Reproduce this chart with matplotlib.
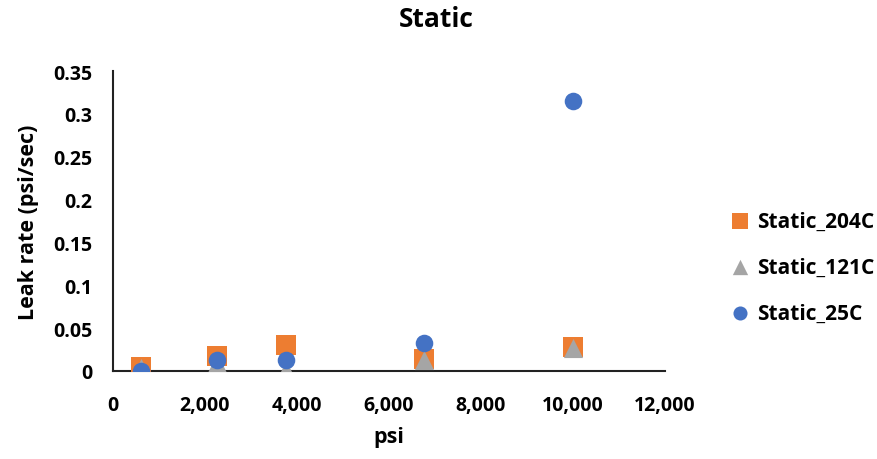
import matplotlib.pyplot as plt
from matplotlib.ticker import FuncFormatter

plt.rcParams["font.family"] = ["Open Sans", "DejaVu Sans"]
plt.rcParams["font.weight"] = "bold"

# Data
psi_204 = [600, 2250, 3750, 6750, 10000]
rate_204 = [0.005, 0.018, 0.030, 0.0145, 0.028]

psi_121 = [600, 2250, 3750, 6750, 10000]
rate_121 = [0.004, 0.009, 0.001, 0.013, 0.027]

psi_25 = [600, 2250, 3750, 6750, 10000]
rate_25 = [0.0, 0.0125, 0.013, 0.033, 0.315]

fig = plt.figure(figsize=(8.77, 4.6), dpi=100)
ax = fig.add_axes([113 / 877, 88 / 460, 552 / 877, 300 / 460])

ax.scatter(psi_204, rate_204, marker="s", s=200, color="#ED7D31",
           label="Static_204C", zorder=3, linewidths=0)
ax.scatter(psi_121, rate_121, marker="^", s=190, color="#A5A5A5",
           label="Static_121C", zorder=4, linewidths=0)
ax.scatter(psi_25, rate_25, marker="o", s=160, color="#4472C4",
           label="Static_25C", zorder=5, linewidths=0)

ax.set_xlim(0, 12000)
ax.set_ylim(0, 0.35)
ax.set_xticks(range(0, 12001, 2000))
ax.set_yticks([0, 0.05, 0.1, 0.15, 0.2, 0.25, 0.3, 0.35])
ax.xaxis.set_major_formatter(FuncFormatter(lambda v, p: f"{int(v):,}"))
ax.yaxis.set_major_formatter(FuncFormatter(lambda v, p: f"{v:g}"))
ax.tick_params(length=0, labelsize=14)
ax.tick_params(axis="x", pad=17)
ax.tick_params(axis="y", pad=15)
for lab in ax.get_xticklabels() + ax.get_yticklabels():
    lab.set_fontweight("bold")

for side in ["top", "right"]:
    ax.spines[side].set_visible(False)
for side in ["left", "bottom"]:
    ax.spines[side].set_linewidth(1.5)
    ax.spines[side].set_color("#222222")

ax.set_xlabel("psi", fontsize=15.5, fontweight="bold", labelpad=8)
ax.set_ylabel("Leak rate (psi/sec)", fontsize=15.5, fontweight="bold", labelpad=10)
fig.text(0.498, 0.957, "Static", ha="center", va="center", fontsize=19, fontweight="bold")

# Legend off to the right, like the Excel original
leg = fig.legend(loc="center left", bbox_to_anchor=(0.822, 0.417), frameon=False,
                 fontsize=15, labelspacing=1.2, handletextpad=0.35,
                 markerscale=0.8, handlelength=1.0, borderaxespad=0)
for t in leg.get_texts():
    t.set_fontweight("bold")

fig.savefig("out.png", dpi=100)
